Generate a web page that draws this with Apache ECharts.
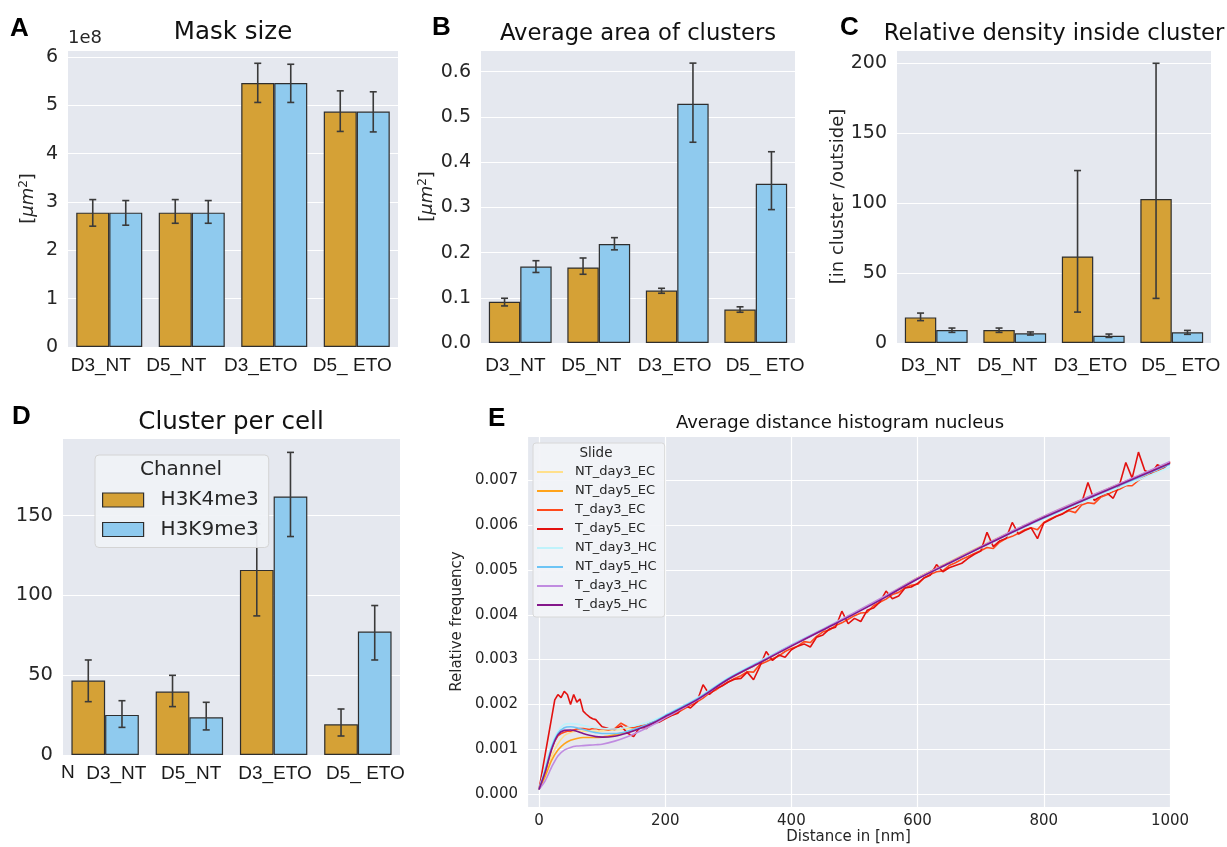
<!DOCTYPE html>
<html>
<head>
<meta charset="utf-8">
<script src="https://cdn.jsdelivr.net/npm/echarts@6/dist/echarts.min.js"></script>
<style>
  html, body { margin: 0; background: #fff; }
  #chart { width: 1227px; height: 847px; }
</style>
</head>
<body>
<div id="chart"></div>
<script>
// ---- data ----
const categories = ['D3_NT', 'D5_NT', 'D3_ETO', 'D5_ ETO'];
const channels = ['H3K4me3', 'H3K9me3'];

// A: mask size (x 1e8)
const maskK4 = [2.78, 2.78, 5.46, 4.87];
const maskK4Lo = [2.50, 2.56, 5.06, 4.46];
const maskK4Hi = [3.05, 3.05, 5.87, 5.30];
const maskK9 = [2.78, 2.78, 5.46, 4.87];
const maskK9Lo = [2.52, 2.56, 5.06, 4.45];
const maskK9Hi = [3.03, 3.03, 5.85, 5.28];

// B: average area of clusters
const areaK4 = [0.091, 0.167, 0.116, 0.074];
const areaK4Lo = [0.082, 0.152, 0.110, 0.068];
const areaK4Hi = [0.099, 0.188, 0.121, 0.080];
const areaK9 = [0.169, 0.219, 0.529, 0.352];
const areaK9Lo = [0.156, 0.206, 0.444, 0.295];
const areaK9Hi = [0.182, 0.233, 0.619, 0.423];

// C: relative density inside cluster
const densK4 = [18.3, 9.3, 61.9, 102.9];
const densK4Lo = [16.0, 7.6, 22.1, 31.9];
const densK4Hi = [21.4, 10.7, 123.3, 200];
const densK9 = [9.3, 6.9, 5.2, 7.6];
const densK9Lo = [7.6, 5.7, 4.0, 6.2];
const densK9Hi = [10.7, 7.9, 6.4, 9.0];

// D: cluster per cell
const cellK4 = [46.6, 39.7, 115.9, 19.2];
const cellK4Lo = [33.4, 30.3, 87.1, 11.9];
const cellK4Hi = [59.5, 49.9, 144.7, 28.8];
const cellK9 = [25.1, 23.6, 161.9, 77.3];
const cellK9Lo = [17.3, 15.7, 136.8, 59.5];
const cellK9Hi = [34.0, 33.0, 189.5, 93.6];

// E: average distance histogram
const slideNames = ['NT_day3_EC', 'NT_day5_EC', 'T_day3_EC', 'T_day5_EC',
  'NT_day3_HC', 'NT_day5_HC', 'T_day3_HC', 'T_day5_HC'];
const slideColors = ['#ffe08c', '#ffa31a', '#ff4a1c', '#e3110f',
  '#bff2fb', '#6cc4f5', '#c08be0', '#84168a'];

const distSmooth = [0, 10, 20, 30, 40, 50, 60, 70, 80, 90, 100, 120, 140, 160, 180, 200,
  250, 300, 350, 400, 450, 500, 550, 600, 650, 700, 750, 800, 850, 900, 950, 1000];
const ntDay3EC = [0.0001, 0.00045, 0.00085, 0.00112, 0.0013, 0.00137, 0.0014, 0.0014, 0.0014, 0.0014, 0.00141, 0.00143, 0.00146, 0.0015, 0.0016, 0.00174,
  0.00211, 0.00257, 0.00294, 0.00332, 0.00368, 0.00405, 0.00443, 0.00483, 0.00518, 0.00553, 0.00587, 0.0062, 0.00651, 0.0068, 0.0071, 0.0074];
const ntDay5EC = [0.0001, 0.0004, 0.00075, 0.00098, 0.00112, 0.0012, 0.00124, 0.00126, 0.00126, 0.00126, 0.00127, 0.00132, 0.00138, 0.00147, 0.00158, 0.00173,
  0.0021, 0.00256, 0.00293, 0.00331, 0.00367, 0.00404, 0.00442, 0.00482, 0.00517, 0.00552, 0.00586, 0.00619, 0.0065, 0.0068, 0.0071, 0.0074];
const ntDay3HC = [0.0001, 0.0006, 0.0011, 0.0014, 0.00155, 0.00157, 0.00156, 0.00153, 0.0015, 0.00148, 0.00146, 0.00145, 0.00149, 0.00155, 0.00164, 0.00177,
  0.00214, 0.0026, 0.00297, 0.00334, 0.00369, 0.00405, 0.00443, 0.00481, 0.00515, 0.00549, 0.00582, 0.00614, 0.00644, 0.00673, 0.00701, 0.0073];
const ntDay5HC = [0.0001, 0.00055, 0.00105, 0.00135, 0.00148, 0.0015, 0.00148, 0.00144, 0.0014, 0.00137, 0.00135, 0.00135, 0.0014, 0.00149, 0.0016, 0.00175,
  0.00212, 0.00258, 0.00295, 0.00332, 0.00367, 0.00403, 0.00441, 0.0048, 0.00515, 0.0055, 0.00584, 0.00616, 0.00647, 0.00677, 0.00706, 0.00736];
const tDay3HC = [0.0001, 0.0003, 0.0006, 0.00085, 0.00098, 0.00104, 0.00107, 0.00108, 0.00109, 0.0011, 0.00111, 0.00118, 0.00128, 0.0014, 0.00154, 0.0017,
  0.00209, 0.00256, 0.00294, 0.00332, 0.00368, 0.00405, 0.00443, 0.00482, 0.00517, 0.00552, 0.00587, 0.0062, 0.00651, 0.00681, 0.00711, 0.00742];
const tDay5HC = [0.0001, 0.0005, 0.001, 0.00132, 0.00142, 0.00143, 0.0014, 0.00135, 0.00131, 0.00128, 0.00127, 0.00129, 0.00136, 0.00146, 0.00158, 0.00173,
  0.0021, 0.00256, 0.00293, 0.0033, 0.00366, 0.00402, 0.0044, 0.0048, 0.00515, 0.0055, 0.00584, 0.00617, 0.00648, 0.00678, 0.00708, 0.00738];

const distNoisy = [0, 5, 10, 15, 20, 25, 30, 35, 40, 45, 50, 55, 60, 65, 70, 75, 80, 85, 90, 95, 100,
  110, 120, 130, 140, 150, 160, 170, 180, 190, 200,
  210, 220, 230, 240, 250, 260, 270, 280, 290, 300,
  310, 320, 330, 340, 350, 360, 370, 380, 390, 400,
  410, 420, 430, 440, 450, 460, 470, 480, 490, 500,
  510, 520, 530, 540, 550, 560, 570, 580, 590, 600,
  610, 620, 630, 640, 650, 660, 670, 680, 690, 700,
  710, 720, 730, 740, 750, 760, 770, 780, 790, 800,
  810, 820, 830, 840, 850, 860, 870, 880, 890, 900,
  910, 920, 930, 940, 950, 960, 970, 980, 990, 1000];
const tDay3EC = [0.0001, 0.0003, 0.0005, 0.00075, 0.001, 0.00118, 0.0013, 0.00135, 0.00138, 0.0014, 0.0014, 0.00143, 0.00145, 0.00146, 0.00146, 0.00145, 0.00144, 0.00146, 0.00146, 0.00144, 0.00145,
  0.00143, 0.00146, 0.00158, 0.0015, 0.00148, 0.00152, 0.00154, 0.0016, 0.00165, 0.0017,
  0.00176, 0.00182, 0.0019, 0.00198, 0.00205, 0.00214, 0.00225, 0.00232, 0.00242, 0.0025,
  0.00258, 0.00264, 0.00273, 0.00272, 0.00289, 0.00295, 0.00302, 0.00308, 0.00318, 0.00325,
  0.0033, 0.0034, 0.00338, 0.00352, 0.00362, 0.00366, 0.00376, 0.00382, 0.0039, 0.00398,
  0.00404, 0.00405, 0.0042, 0.00428, 0.00435, 0.00445, 0.0045, 0.0046, 0.00466, 0.00468,
  0.00482, 0.0049, 0.00496, 0.00498, 0.0051, 0.00516, 0.00524, 0.0053, 0.00537, 0.00543,
  0.0055, 0.00548, 0.00562, 0.0057, 0.00575, 0.00582, 0.0059, 0.00594, 0.0059, 0.00606,
  0.00614, 0.0062, 0.00626, 0.00632, 0.00628, 0.00645, 0.0065, 0.00648, 0.00662, 0.00668,
  0.00675, 0.0068, 0.00688, 0.00688, 0.007, 0.00708, 0.00714, 0.0072, 0.00728, 0.00742];
const tDay5EC = [0.0001, 0.0005, 0.0009, 0.0013, 0.0017, 0.0021, 0.00222, 0.00215, 0.00229, 0.00222, 0.002, 0.00222, 0.00205, 0.00212, 0.00185, 0.00178, 0.00172, 0.00168, 0.00166, 0.00158, 0.0015,
  0.00146, 0.00144, 0.00152, 0.00136, 0.00128, 0.0015, 0.00146, 0.00158, 0.0016, 0.00168,
  0.00175, 0.0018, 0.00198, 0.00192, 0.00205, 0.00244, 0.00222, 0.00235, 0.00241, 0.0025,
  0.00256, 0.00258, 0.00272, 0.00255, 0.00285, 0.00318, 0.00298, 0.0031, 0.00305, 0.00322,
  0.0033, 0.00335, 0.00328, 0.0035, 0.00355, 0.00368, 0.00372, 0.00408, 0.0038, 0.00392,
  0.00385, 0.0041, 0.00415, 0.00428, 0.00453, 0.00436, 0.00442, 0.0046, 0.00462, 0.0047,
  0.00482, 0.00488, 0.00512, 0.00496, 0.00505, 0.0051, 0.00515, 0.00526, 0.00535, 0.00542,
  0.00584, 0.00552, 0.00565, 0.0057, 0.00606, 0.0058, 0.00588, 0.00594, 0.0057, 0.00605,
  0.00612, 0.0062, 0.00625, 0.00635, 0.0064, 0.0065, 0.00695, 0.00655, 0.00665, 0.00672,
  0.0066, 0.0069, 0.0074, 0.00705, 0.00763, 0.00722, 0.00715, 0.00735, 0.00728, 0.0074];

const slideSeries = [
  [distSmooth, ntDay3EC, true], [distSmooth, ntDay5EC, true], [distNoisy, tDay3EC, false], [distNoisy, tDay5EC, false],
  [distSmooth, ntDay3HC, true], [distSmooth, ntDay5HC, true], [distSmooth, tDay3HC, true], [distSmooth, tDay5HC, true]
];

// ---- styling ----
const FONT = 'DejaVu Sans';
const LABEL_FONT = 'Liberation Sans';
const TXT = '#262626';
const ORANGE = '#d5a136';
const BLUE = '#8fcaee';
const ERR = '#3a3a3a';
const PLOT_BG = '#e5e8ef';

// horizontal offsets (px) of the category labels in each bar panel
const labelShift = [
  [-8.5, -15.5, -13.5, -4.5],
  [-4.8, -7.4, -2.6, 9.3],
  [-5.4, -7.4, -2.7, 9],
  [11.2, 1.8, 1.4, 7.6]
];

const grids = [
  { left: 68, top: 50, width: 330, height: 297 },
  { left: 481, top: 50, width: 314, height: 293 },
  { left: 897, top: 50, width: 314, height: 293 },
  { left: 63, top: 438, width: 337, height: 317 },
  { left: 527, top: 436, width: 643, height: 371 }
].map(g => Object.assign({ show: true, backgroundColor: PLOT_BG, borderWidth: 0 }, g));

const multipleOf = (step, digits) => v => {
  const k = v / step;
  return Math.abs(k - Math.round(k)) < 1e-6 ? (digits == null ? String(Math.round(v)) : v.toFixed(digits)) : '';
};

function catAxis(idx, margin) {
  const rich = {};
  labelShift[idx].forEach((s, i) => {
    rich['p' + i] = {
      fontFamily: LABEL_FONT, fontSize: 19, color: '#1a1a1a',
      padding: s > 0 ? [0, 0, 0, 2 * s] : [0, -2 * s, 0, 0]
    };
  });
  return {
    type: 'category', gridIndex: idx, data: categories,
    axisLine: { show: false }, axisTick: { show: false }, splitLine: { show: false },
    axisLabel: {
      fontFamily: LABEL_FONT, fontSize: 19, color: '#1a1a1a', margin: margin, interval: 0,
      formatter: (v, i) => '{p' + i + '|' + v + '}', rich: rich
    }
  };
}

function valAxis(idx, max, interval, fmt, size, extra) {
  return Object.assign({
    type: 'value', gridIndex: idx, min: 0, max: max, interval: interval,
    axisLine: { show: false }, axisTick: { show: false },
    splitLine: { lineStyle: { color: '#ffffff', width: 1.2 } },
    axisLabel: { fontFamily: FONT, fontSize: size, color: TXT, margin: 10, formatter: fmt }
  }, extra || {});
}

function barSeries(idx, name, values, color) {
  return {
    type: 'bar', name: name, xAxisIndex: idx, yAxisIndex: idx, data: values,
    barGap: '0%', barCategoryGap: '20%', z: 2,
    itemStyle: { color: color, borderColor: '#2e2e2e', borderWidth: 1.2 }
  };
}

function errorSeries(idx, lows, highs, side) {
  return {
    type: 'custom', xAxisIndex: idx, yAxisIndex: idx, z: 3, silent: true,
    data: lows.map((lo, i) => [i, lo, highs[i]]),
    encode: { x: 0, y: [1, 2] },
    renderItem: (params, api) => {
      const bw = api.size([1, 0])[0];
      const hi = api.coord([api.value(0), api.value(2)]);
      const lo = api.coord([api.value(0), api.value(1)]);
      const x = hi[0] + side * bw * 0.2;
      const cap = 3.5;
      const st = { stroke: ERR, lineWidth: 1.6 };
      return {
        type: 'group', children: [
          { type: 'line', shape: { x1: x, y1: hi[1], x2: x, y2: lo[1] }, style: st },
          { type: 'line', shape: { x1: x - cap, y1: hi[1], x2: x + cap, y2: hi[1] }, style: st },
          { type: 'line', shape: { x1: x - cap, y1: lo[1], x2: x + cap, y2: lo[1] }, style: st }
        ]
      };
    }
  };
}

function panelBars(idx, k4, k4lo, k4hi, k9, k9lo, k9hi) {
  return [
    barSeries(idx, channels[0], k4, ORANGE),
    barSeries(idx, channels[1], k9, BLUE),
    errorSeries(idx, k4lo, k4hi, -1),
    errorSeries(idx, k9lo, k9hi, 1)
  ];
}

const umName = '[{i|μm}{s|2}]';
const umRich = {
  i: { fontFamily: FONT, fontSize: 18, fontStyle: 'italic', color: TXT },
  s: { fontFamily: FONT, fontSize: 12, color: TXT, verticalAlign: 'top', padding: [0, 0, 8, 0] }
};

const xAxes = [
  catAxis(0, 9), catAxis(1, 13), catAxis(2, 13), catAxis(3, 9),
  {
    type: 'value', gridIndex: 4, min: -19, max: 1000, minInterval: 200, maxInterval: 200, splitNumber: 5,
    axisLine: { show: false }, axisTick: { show: false },
    splitLine: { lineStyle: { color: '#ffffff', width: 1.2 } },
    axisLabel: { fontFamily: FONT, fontSize: 15, color: TXT, margin: 7, formatter: multipleOf(200) },
    name: 'Distance in [nm]', nameLocation: 'middle', nameGap: 19,
    nameTextStyle: { fontFamily: FONT, fontSize: 15, color: TXT }
  }
];

const yAxes = [
  valAxis(0, 6.145, 1, multipleOf(1), 19, {
    name: umName, nameLocation: 'middle', nameGap: 30,
    nameTextStyle: { fontFamily: FONT, fontSize: 18, color: TXT, rich: umRich }
  }),
  valAxis(1, 0.648, 0.1, multipleOf(0.1, 1), 19, {
    name: umName, nameLocation: 'middle', nameGap: 44,
    nameTextStyle: { fontFamily: FONT, fontSize: 18, color: TXT, rich: umRich }
  }),
  valAxis(2, 209.5, 50, multipleOf(50), 19, {
    name: '[in cluster /outside]', nameLocation: 'middle', nameGap: 50,
    nameTextStyle: { fontFamily: FONT, fontSize: 18, color: TXT }
  }),
  valAxis(3, 198.5, 50, multipleOf(50), 19.5),
  {
    type: 'value', gridIndex: 4, min: -0.00029, max: 0.00799, minInterval: 0.001, maxInterval: 0.001, splitNumber: 8,
    axisLine: { show: false }, axisTick: { show: false },
    splitLine: { lineStyle: { color: '#ffffff', width: 1.2 } },
    axisLabel: { fontFamily: FONT, fontSize: 15, color: TXT, margin: 9, formatter: multipleOf(0.001, 3) },
    name: 'Relative frequency', nameLocation: 'middle', nameGap: 55,
    nameTextStyle: { fontFamily: FONT, fontSize: 15, color: TXT }
  }
];

const series = [].concat(
  panelBars(0, maskK4, maskK4Lo, maskK4Hi, maskK9, maskK9Lo, maskK9Hi),
  panelBars(1, areaK4, areaK4Lo, areaK4Hi, areaK9, areaK9Lo, areaK9Hi),
  panelBars(2, densK4, densK4Lo, densK4Hi, densK9, densK9Lo, densK9Hi),
  panelBars(3, cellK4, cellK4Lo, cellK4Hi, cellK9, cellK9Lo, cellK9Hi),
  slideSeries.map((s, i) => ({
    type: 'line', name: slideNames[i], xAxisIndex: 4, yAxisIndex: 4,
    data: s[0].map((d, j) => [d, s[1][j]]),
    smooth: s[2] ? 0.3 : false, showSymbol: false, z: 2 + i * 0.01,
    lineStyle: { color: slideColors[i], width: 1.6 },
    itemStyle: { color: slideColors[i] }
  }))
);

function txt(text, x, y, size, opts) {
  return {
    type: 'text', x: x, y: y, z: 100,
    style: Object.assign({
      text: text, fontFamily: FONT, fontSize: size, fill: '#111',
      align: 'center', verticalAlign: 'middle'
    }, opts || {})
  };
}
const letter = (t, x, y) => txt(t, x, y, 26, { fontFamily: 'Liberation Sans', fontWeight: 'bold', align: 'left', fill: '#000' });

const option = {
  animation: false,
  backgroundColor: '#ffffff',
  grid: grids,
  xAxis: xAxes,
  yAxis: yAxes,
  legend: [
    {
      data: channels, orient: 'vertical', left: 95, top: 455,
      padding: [35, 10, 8, 7], itemWidth: 41, itemHeight: 14, itemGap: 9.5, icon: 'rect',
      itemStyle: { borderColor: '#2e2e2e', borderWidth: 1.2 },
      textStyle: { fontFamily: FONT, fontSize: 20, lineHeight: 20, color: TXT, padding: [0, 0, 0, 12] },
      backgroundColor: 'rgba(240,242,246,0.93)', borderColor: '#d4d4d4', borderWidth: 1, borderRadius: 4,
      selectedMode: false, z: 5
    },
    {
      data: slideNames, orient: 'vertical', left: 533, top: 443,
      padding: [22, 8, 5, 4], itemWidth: 26, itemHeight: 2, itemGap: 5, icon: 'rect',
      textStyle: { fontFamily: FONT, fontSize: 13, lineHeight: 14, color: TXT, padding: [0, 0, 0, 7] },
      backgroundColor: 'rgba(242,243,247,0.93)', borderColor: '#d8d8d8', borderWidth: 1, borderRadius: 3,
      selectedMode: false, z: 5
    }
  ],
  graphic: [
    letter('A', 10, 29), letter('B', 432, 28), letter('C', 840, 28), letter('D', 12, 417), letter('E', 488, 419),
    txt('Mask size', 233, 33, 24.5),
    txt('Average area of clusters', 638, 34, 22.7),
    txt('Relative density inside cluster', 1054, 34, 22.7),
    txt('Cluster per cell', 231, 423, 24.5),
    txt('Average distance histogram nucleus', 840, 423, 18),
    txt('1e8', 68, 38, 18, { align: 'left', fill: TXT }),
    txt('N', 61, 773, 19, { fontFamily: LABEL_FONT, align: 'left', fill: '#1a1a1a' }),
    txt('Channel', 181, 470, 20, { fill: TXT }),
    txt('Slide', 596, 453, 13.5, { fill: TXT })
  ],
  series: series
};

const chart = echarts.init(document.getElementById('chart'), null, { renderer: 'canvas' });
chart.setOption(option);
</script>
</body>
</html>
